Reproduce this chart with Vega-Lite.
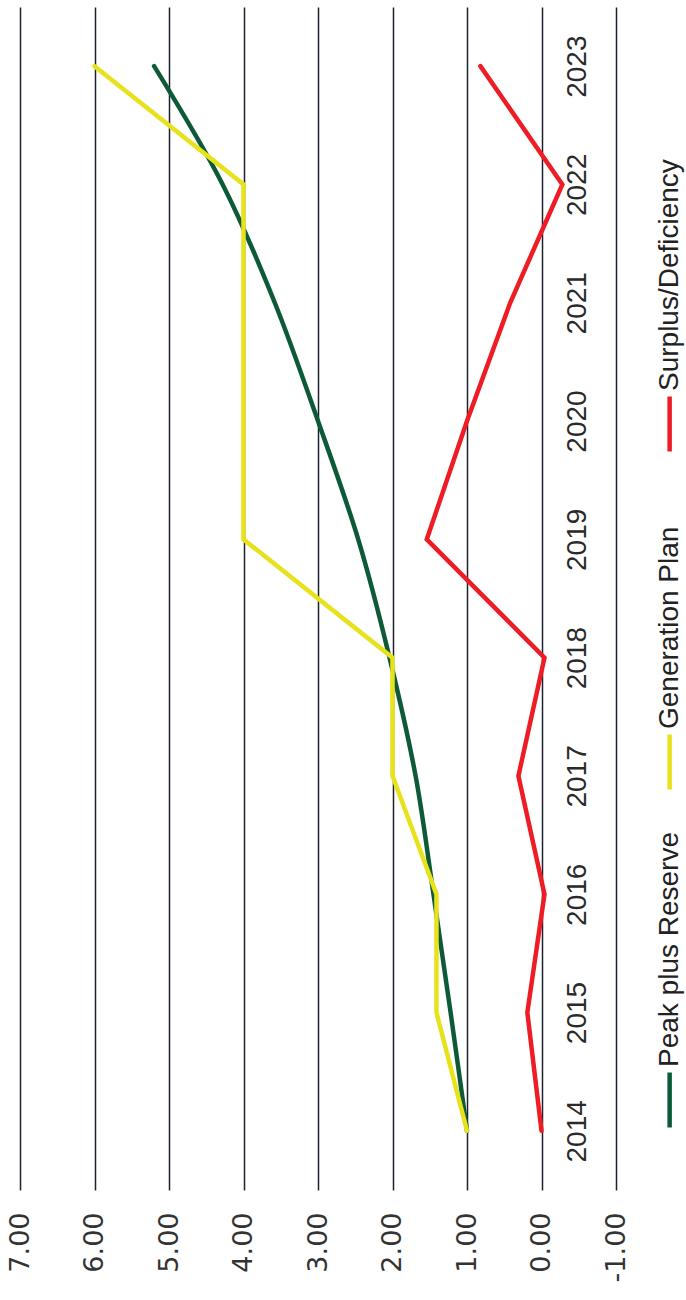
{
  "$schema": "https://vega.github.io/schema/vega-lite/v6.json",
  "width": 596,
  "height": 1183,
  "autosize": {"type": "none"},
  "padding": {"left": 20, "top": 7, "right": 70, "bottom": 110},
  "background": "#ffffff",
  "config": {"view": {"stroke": null}},
  "datasets": {
    "lines": [
      {"year": 2014, "series": "Peak plus Reserve", "value": 1.0},
      {"year": 2015, "series": "Peak plus Reserve", "value": 1.22},
      {"year": 2016, "series": "Peak plus Reserve", "value": 1.45},
      {"year": 2017, "series": "Peak plus Reserve", "value": 1.69},
      {"year": 2018, "series": "Peak plus Reserve", "value": 2.04},
      {"year": 2019, "series": "Peak plus Reserve", "value": 2.46},
      {"year": 2020, "series": "Peak plus Reserve", "value": 3.0},
      {"year": 2021, "series": "Peak plus Reserve", "value": 3.58},
      {"year": 2022, "series": "Peak plus Reserve", "value": 4.28},
      {"year": 2023, "series": "Peak plus Reserve", "value": 5.2},
      {"year": 2014, "series": "Generation Plan", "value": 1.0},
      {"year": 2015, "series": "Generation Plan", "value": 1.41},
      {"year": 2016, "series": "Generation Plan", "value": 1.41},
      {"year": 2017, "series": "Generation Plan", "value": 2.0},
      {"year": 2018, "series": "Generation Plan", "value": 2.0},
      {"year": 2019, "series": "Generation Plan", "value": 4.0},
      {"year": 2020, "series": "Generation Plan", "value": 4.0},
      {"year": 2021, "series": "Generation Plan", "value": 4.0},
      {"year": 2022, "series": "Generation Plan", "value": 4.0},
      {"year": 2023, "series": "Generation Plan", "value": 6.0},
      {"year": 2014, "series": "Surplus/Deficiency", "value": 0.0},
      {"year": 2015, "series": "Surplus/Deficiency", "value": 0.19},
      {"year": 2016, "series": "Surplus/Deficiency", "value": -0.04},
      {"year": 2017, "series": "Surplus/Deficiency", "value": 0.31},
      {"year": 2018, "series": "Surplus/Deficiency", "value": -0.04},
      {"year": 2019, "series": "Surplus/Deficiency", "value": 1.54},
      {"year": 2020, "series": "Surplus/Deficiency", "value": 1.0},
      {"year": 2021, "series": "Surplus/Deficiency", "value": 0.42},
      {"year": 2022, "series": "Surplus/Deficiency", "value": -0.28},
      {"year": 2023, "series": "Surplus/Deficiency", "value": 0.82}
    ],
    "legend": [
      {"series": "Peak plus Reserve"},
      {"series": "Generation Plan"},
      {"series": "Surplus/Deficiency"}
    ]
  },
  "layer": [
    {
      "data": {"name": "lines"},
      "encoding": {
        "x": {
          "field": "value",
          "type": "quantitative",
          "scale": {"domain": [-1, 7], "reverse": true, "nice": false, "zero": false},
          "axis": {
            "title": null,
            "values": [-1, 0, 1, 2, 3, 4, 5, 6, 7],
            "labelExpr": "(datum.value < 0 ? '-' : '') + format(abs(datum.value), '.2f')",
            "grid": true,
            "gridColor": "#1e2130",
            "gridWidth": 1.5,
            "gridOpacity": 1,
            "domain": false,
            "ticks": false,
            "tickSize": 0,
            "labelAngle": -90,
            "labelAlign": "right",
            "labelBaseline": "middle",
            "labelPadding": 22,
            "labelFont": "DejaVu Sans",
            "labelFontSize": 27,
            "labelColor": "#333333",
            "labelOverlap": false,
            "labelBound": false,
            "labelFlush": false
          }
        },
        "y": {
          "field": "year",
          "type": "quantitative",
          "scale": {"domain": [2013.5, 2023.5], "nice": false, "zero": false},
          "axis": {
            "title": null,
            "orient": "right",
            "offset": -39,
            "values": [2014, 2015, 2016, 2017, 2018, 2019, 2020, 2021, 2022, 2023],
            "format": "d",
            "grid": false,
            "domain": false,
            "ticks": false,
            "tickSize": 0,
            "labelPadding": 0,
            "labelAngle": -90,
            "labelAlign": "center",
            "labelBaseline": "middle",
            "labelFont": "Liberation Sans",
            "labelFontSize": 28,
            "labelColor": "#2a2a2a",
            "labelOverlap": false,
            "labelBound": false,
            "labelFlush": false
          }
        },
        "color": {
          "field": "series",
          "type": "nominal",
          "scale": {
            "domain": ["Peak plus Reserve", "Generation Plan", "Surplus/Deficiency"],
            "range": ["#0d5a38", "#e8e21c", "#ee1c24"]
          },
          "legend": null
        },
        "order": {"field": "year", "type": "quantitative"}
      },
      "layer": [
        {
          "transform": [{"filter": "datum.series === 'Peak plus Reserve'"}],
          "mark": {"type": "line", "strokeWidth": 4.5, "interpolate": "catmull-rom", "strokeCap": "round"}
        },
        {
          "transform": [{"filter": "datum.series !== 'Peak plus Reserve'"}],
          "mark": {"type": "line", "strokeWidth": 4.5, "strokeCap": "round", "strokeJoin": "miter"}
        }
      ]
    },
    {
      "data": {"name": "legend"},
      "encoding": {
        "x": {"datum": -1.72},
        "y": {
          "field": "series",
          "type": "nominal",
          "scale": {
            "type": "point",
            "padding": 0,
            "domain": ["Surplus/Deficiency", "Generation Plan", "Peak plus Reserve"],
            "range": [417, 1093]
          },
          "axis": null
        },
        "color": {
          "field": "series",
          "type": "nominal",
          "scale": {
            "domain": ["Peak plus Reserve", "Generation Plan", "Surplus/Deficiency"],
            "range": ["#0d5a38", "#e8e21c", "#ee1c24"]
          },
          "legend": null
        }
      },
      "layer": [
        {"mark": {"type": "tick", "size": 55, "thickness": 4.5, "opacity": 1}},
        {
          "mark": {
            "type": "text",
            "angle": 270,
            "align": "left",
            "baseline": "middle",
            "yOffset": -33,
            "font": "Liberation Sans",
            "fontSize": 28
          },
          "encoding": {
            "text": {"field": "series"},
            "color": {"value": "#222222"}
          }
        }
      ]
    }
  ],
  "resolve": {"scale": {"y": "independent"}}
}
